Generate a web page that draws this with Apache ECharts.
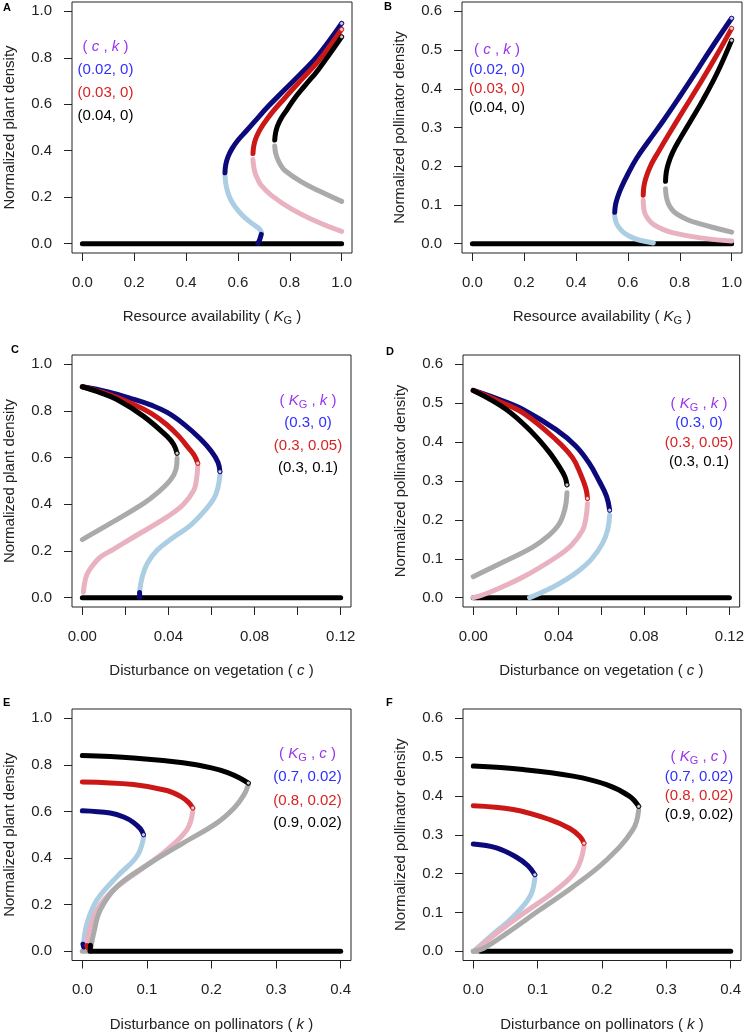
<!DOCTYPE html>
<html><head><meta charset="utf-8">
<script src="https://cdn.jsdelivr.net/npm/echarts@6/dist/echarts.min.js"></script>
<style>html,body{margin:0;padding:0;background:#fff}#c{width:747px;height:1033px}</style>
</head><body><div id="c"></div>
<script>
// ---------- tick values ----------
const ticksUnit = [0, 0.2, 0.4, 0.6, 0.8, 1.0];
const ticksPoll = [0, 0.1, 0.2, 0.3, 0.4, 0.5, 0.6];
const ticksCx = [0, 0.02, 0.04, 0.06, 0.08, 0.10, 0.12];
const labelsCx = [0, 0.04, 0.08, 0.12];
const ticksKx = [0, 0.1, 0.2, 0.3, 0.4];

// ---------- Panel A : plant density vs K_G ----------
const A_navy_st = [[0.550,0.305],[0.553,0.340],[0.562,0.375],[0.578,0.410],[0.600,0.445],[0.632,0.485],[0.664,0.525],[0.716,0.590],[0.780,0.662],[0.845,0.735],[0.910,0.812],[1.000,0.948]];
const A_navy_un = [[0.550,0.295],[0.553,0.260],[0.560,0.225],[0.572,0.190],[0.590,0.158],[0.615,0.125],[0.645,0.095],[0.672,0.073],[0.686,0.060],[0.691,0.048]];
const A_navy_bit = [[0.690,0.040],[0.684,0.018],[0.677,0.002]];
const A_red_st = [[0.658,0.388],[0.661,0.420],[0.668,0.450],[0.680,0.480],[0.696,0.510],[0.729,0.561],[0.780,0.626],[0.845,0.706],[0.910,0.785],[1.000,0.922]];
const A_red_un = [[0.658,0.362],[0.661,0.330],[0.667,0.302],[0.677,0.276],[0.690,0.251],[0.729,0.208],[0.806,0.150],[0.910,0.092],[1.000,0.053]];
const A_blk_st = [[0.742,0.446],[0.745,0.475],[0.752,0.505],[0.767,0.540],[0.790,0.578],[0.819,0.626],[0.860,0.682],[0.910,0.749],[1.000,0.890]];
const A_blk_un = [[0.742,0.420],[0.745,0.392],[0.752,0.367],[0.764,0.340],[0.780,0.316],[0.845,0.266],[0.922,0.222],[1.000,0.182]];
const A_zero = [[0,0],[1,0]];

// ---------- Panel B : pollinator density vs K_G ----------
const B_navy_st = [[0.549,0.081],[0.552,0.100],[0.560,0.120],[0.575,0.146],[0.600,0.180],[0.633,0.220],[0.680,0.265],[0.737,0.318],[0.800,0.380],[0.866,0.447],[0.930,0.513],[1.000,0.582]];
const B_navy_un = [[0.549,0.073],[0.553,0.058],[0.562,0.045],[0.577,0.033],[0.594,0.024],[0.620,0.015],[0.646,0.009],[0.698,0.002]];
const B_red_st = [[0.659,0.125],[0.662,0.150],[0.672,0.175],[0.690,0.205],[0.720,0.240],[0.760,0.285],[0.810,0.340],[0.870,0.405],[0.935,0.478],[1.000,0.556]];
const B_red_un = [[0.659,0.112],[0.661,0.092],[0.666,0.077],[0.680,0.062],[0.698,0.050],[0.735,0.037],[0.775,0.028],[0.879,0.015],[1.000,0.007]];
const B_blk_st = [[0.745,0.161],[0.748,0.185],[0.756,0.207],[0.772,0.235],[0.800,0.270],[0.840,0.315],[0.890,0.372],[0.945,0.442],[1.000,0.525]];
const B_blk_un = [[0.745,0.142],[0.748,0.122],[0.756,0.103],[0.770,0.088],[0.788,0.077],[0.830,0.062],[0.879,0.051],[0.940,0.040],[1.000,0.030]];
const B_zero = [[0,0],[1,0]];

// ---------- Panel C : plant density vs c ----------
const C_navy_st = [[0,0.904],[0.012,0.882],[0.024,0.850],[0.032,0.825],[0.0394,0.794],[0.047,0.745],[0.0549,0.680],[0.0600,0.626],[0.0630,0.580],[0.0639,0.540]];
const C_navy_un = [[0.0639,0.525],[0.0629,0.468],[0.0611,0.425],[0.0564,0.368],[0.0502,0.310],[0.0425,0.260],[0.0347,0.203],[0.0301,0.145],[0.0278,0.088],[0.0266,0.027]];
const C_navy_bit = [[0.0266,0.022],[0.0266,0.002]];
const C_red_st = [[0,0.904],[0.012,0.872],[0.024,0.828],[0.032,0.790],[0.0394,0.740],[0.045,0.690],[0.0490,0.645],[0.0520,0.610],[0.0536,0.576]];
const C_red_un = [[0.0536,0.562],[0.0530,0.505],[0.0518,0.461],[0.0470,0.400],[0.0394,0.346],[0.0239,0.260],[0.0140,0.205],[0.0084,0.174],[0.0045,0.135],[0.0022,0.100],[0.0010,0.060],[0.0005,0.023]];
const C_blk_st = [[0,0.904],[0.008,0.880],[0.0161,0.849],[0.0285,0.777],[0.0394,0.691],[0.0425,0.655],[0.0440,0.619]];
const C_blk_un = [[0.0440,0.598],[0.0435,0.550],[0.0409,0.504],[0.0350,0.450],[0.0285,0.404],[0.0130,0.318],[0,0.249]];
const C_zero = [[0,0],[0.12,0]];

// ---------- Panel D : pollinator density vs c ----------
const D_navy_st = [[0,0.533],[0.012,0.510],[0.0233,0.484],[0.0388,0.432],[0.0480,0.390],[0.0543,0.346],[0.0590,0.300],[0.0625,0.260],[0.0639,0.225]];
const D_navy_un = [[0.0639,0.212],[0.0630,0.175],[0.0605,0.139],[0.0555,0.100],[0.0496,0.070],[0.0430,0.045],[0.0372,0.027],[0.0264,0.0]];
const D_red_st = [[0,0.533],[0.012,0.505],[0.0233,0.475],[0.0388,0.406],[0.0465,0.360],[0.0505,0.315],[0.0528,0.280],[0.0535,0.255]];
const D_red_un = [[0.0535,0.242],[0.0528,0.205],[0.0512,0.173],[0.0460,0.135],[0.0388,0.104],[0.0233,0.053],[0.0078,0.014],[0,0.0]];
const D_blk_st = [[0,0.533],[0.0155,0.484],[0.0279,0.423],[0.0355,0.375],[0.0405,0.335],[0.0430,0.310],[0.0439,0.290]];
const D_blk_un = [[0.0439,0.270],[0.0430,0.230],[0.0403,0.190],[0.0350,0.158],[0.0279,0.130],[0.0124,0.087],[0,0.054]];
const D_zero = [[0,0],[0.12,0]];

// ---------- Panel E : plant density vs k ----------
const E_navy_st = [[0,0.603],[0.0432,0.593],[0.0650,0.575],[0.0792,0.553],[0.0900,0.525],[0.0947,0.500]];
const E_navy_un = [[0.0947,0.486],[0.0844,0.407],[0.0536,0.320],[0.0227,0.220],[0.0072,0.119],[0.002,0.034]];
const E_navy_bit = [[0.001,0.030],[0.002,0.018]];
const E_red_st = [[0,0.727],[0.0792,0.716],[0.131,0.690],[0.152,0.665],[0.164,0.640],[0.171,0.615]];
const E_red_un = [[0.171,0.600],[0.162,0.522],[0.131,0.435],[0.0896,0.349],[0.0484,0.263],[0.0227,0.177],[0.0098,0.076],[0.0072,0.026]];
const E_red_bit = [[0.007,0.024],[0.009,0.013]];
const E_blk_st = [[0,0.840],[0.0792,0.830],[0.156,0.809],[0.200,0.787],[0.225,0.767],[0.245,0.742],[0.257,0.722]];
const E_blk_un = [[0.257,0.715],[0.250,0.670],[0.235,0.615],[0.208,0.550],[0.156,0.464],[0.105,0.378],[0.0536,0.277],[0.0278,0.177],[0.0175,0.076],[0.0134,0.019]];
const E_blk_bit = [[0.0125,0.026],[0.0125,0.002]];
const E_zero_un = [[0,0],[0.012,0]];
const E_zero = [[0.012,0],[0.4,0]];

// ---------- Panel F : pollinator density vs k ----------
const F_navy_st = [[0,0.276],[0.036,0.266],[0.0672,0.242],[0.0850,0.220],[0.0956,0.197]];
const F_navy_un = [[0.0956,0.188],[0.0879,0.140],[0.062,0.089],[0.0258,0.037],[0.0026,0.003]];
const F_red_st = [[0,0.375],[0.062,0.365],[0.119,0.339],[0.150,0.316],[0.166,0.295],[0.172,0.278]];
const F_red_un = [[0.172,0.270],[0.160,0.209],[0.129,0.158],[0.0775,0.097],[0.036,0.046],[0.005,0.003]];
const F_blk_st = [[0,0.477],[0.0775,0.468],[0.155,0.451],[0.207,0.429],[0.243,0.399],[0.257,0.373]];
const F_blk_un = [[0.257,0.364],[0.248,0.313],[0.207,0.235],[0.155,0.166],[0.103,0.106],[0.0517,0.046],[0.0155,0.007],[0,0]];
const F_zero_un = [[0,0],[0.0114,0]];
const F_zero = [[0.0114,0],[0.4,0]];

// ---------- legend texts ----------
const legA = ['(0.02, 0)', '(0.03, 0)', '(0.04, 0)'];
const legC = ['(0.3, 0)', '(0.3, 0.05)', '(0.3, 0.1)'];
const legE = ['(0.7, 0.02)', '(0.8, 0.02)', '(0.9, 0.02)'];

// ---------- styles ----------
const FONT = '"Liberation Sans", Arial, Helvetica, sans-serif';
const NAVY = '#0c0a7a', RED = '#cc1717', BLK = '#000000';
const LBLUE = '#abcee3', PINK = '#e9b2c0', GRAY = '#aaaaaa';
const PURPLE = '#9b33ee', LBLUE_T = '#2f2fff', LRED_T = '#d92222';
const AXC = '#222';

const richName = {
  t: {fontSize: 15, fontFamily: FONT, color: AXC, lineHeight: 18},
  i: {fontSize: 15, fontFamily: FONT, color: AXC, fontStyle: 'italic', lineHeight: 18},
  s: {fontSize: 11, fontFamily: FONT, color: AXC, lineHeight: 11, verticalAlign: 'bottom'}
};
const nameKG = '{t|Resource availability ( }{i|K}{s|G}{t| )}';
const nameC = '{t|Disturbance on vegetation ( }{i|c}{t| )}';
const nameK = '{t|Disturbance on pollinators ( }{i|k}{t| )}';

const panels = [
  {grid:{left:72,top:2,width:280,height:251}, xr:[0,1], yr:[0,1], xt:ticksUnit, xl:ticksUnit, xd:1, yt:ticksUnit, yd:1, xn:nameKG, yn:'Normalized plant density',
   st:[[A_navy_st,NAVY],[A_red_st,RED],[A_blk_st,BLK]], un:[[A_navy_un,LBLUE],[A_red_un,PINK],[A_blk_un,GRAY]], zero:[[A_zero,BLK]], bits:[[A_navy_bit,NAVY]]},
  {grid:{left:462,top:2,width:280,height:251}, xr:[0,1], yr:[0,0.6], xt:ticksUnit, xl:ticksUnit, xd:1, yt:ticksPoll, yd:1, xn:nameKG, yn:'Normalized pollinator density',
   st:[[B_navy_st,NAVY],[B_red_st,RED],[B_blk_st,BLK]], un:[[B_navy_un,LBLUE],[B_red_un,PINK],[B_blk_un,GRAY]], zero:[[B_zero,BLK]], bits:[]},
  {grid:{left:72,top:355,width:279,height:252}, xr:[0,0.12], yr:[0,1], xt:ticksCx, xl:labelsCx, xd:2, yt:ticksUnit, yd:1, xn:nameC, yn:'Normalized plant density',
   st:[[C_navy_st,NAVY],[C_red_st,RED],[C_blk_st,BLK]], un:[[C_navy_un,LBLUE],[C_red_un,PINK],[C_blk_un,GRAY]], zero:[[C_zero,BLK]], bits:[[C_navy_bit,NAVY]]},
  {grid:{left:463,top:355,width:278,height:252}, xr:[0,0.12], yr:[0,0.6], xt:ticksCx, xl:labelsCx, xd:2, yt:ticksPoll, yd:1, xn:nameC, yn:'Normalized pollinator density',
   st:[[D_navy_st,NAVY],[D_red_st,RED],[D_blk_st,BLK]], un:[[D_navy_un,LBLUE],[D_red_un,PINK],[D_blk_un,GRAY]], zero:[[D_zero,BLK]], bits:[]},
  {grid:{left:72,top:709,width:279,height:252}, xr:[0,0.4], yr:[0,1], xt:ticksKx, xl:ticksKx, xd:1, yt:ticksUnit, yd:1, xn:nameK, yn:'Normalized plant density',
   st:[[E_navy_st,NAVY],[E_red_st,RED],[E_blk_st,BLK]], un:[[E_navy_un,LBLUE],[E_red_un,PINK],[E_blk_un,GRAY]], zero:[[E_zero_un,GRAY],[E_zero,BLK]], bits:[[E_navy_bit,NAVY],[E_red_bit,RED],[E_blk_bit,BLK]]},
  {grid:{left:463,top:709,width:278,height:252}, xr:[0,0.4], yr:[0,0.6], xt:ticksKx, xl:ticksKx, xd:1, yt:ticksPoll, yd:1, xn:nameK, yn:'Normalized pollinator density',
   st:[[F_navy_st,NAVY],[F_red_st,RED],[F_blk_st,BLK]], un:[[F_navy_un,LBLUE],[F_red_un,PINK],[F_blk_un,GRAY]], zero:[[F_zero_un,GRAY],[F_zero,BLK]], bits:[]}
];

const grids = [], xAxes = [], yAxes = [], series = [];
panels.forEach((p, i) => {
  grids.push(Object.assign({show: true, borderColor: AXC, borderWidth: 1, backgroundColor: 'transparent', containLabel: false}, p.grid));
  const xs = p.xr[1] - p.xr[0], ys = p.yr[1] - p.yr[0];
  xAxes.push({
    type: 'value', gridIndex: i, min: p.xr[0] - 0.04 * xs, max: p.xr[1] + 0.04 * xs,
    axisLine: {show: false, onZero: false}, splitLine: {show: false},
    axisTick: {show: true, inside: false, length: 8, customValues: p.xt, lineStyle: {color: AXC, width: 1}},
    axisLabel: {show: true, margin: 22, customValues: p.xl, fontSize: 15, fontFamily: FONT, color: AXC,
      formatter: (v) => Number(v).toFixed(p.xd)},
    name: p.xn, nameLocation: 'middle', nameGap: 55, nameTextStyle: {rich: richName}
  });
  yAxes.push({
    type: 'value', gridIndex: i, min: p.yr[0] - 0.04 * ys, max: p.yr[1] + 0.04 * ys,
    axisLine: {show: false, onZero: false}, splitLine: {show: false},
    axisTick: {show: true, inside: false, length: 8, customValues: p.yt, lineStyle: {color: AXC, width: 1}},
    axisLabel: {show: true, margin: 20, customValues: p.yt, fontSize: 15, fontFamily: FONT, color: AXC,
      formatter: (v) => Number(v).toFixed(p.yd)},
    name: p.yn, nameLocation: 'middle', nameRotate: 90, nameGap: 55,
    nameTextStyle: {fontSize: 15, fontFamily: FONT, color: AXC}
  });
  const line = (data, color, z) => ({
    type: 'line', xAxisIndex: i, yAxisIndex: i, data: data, showSymbol: false, symbol: 'none',
    smooth: 0.4, silent: true, z: z, animation: false,
    lineStyle: {color: color, width: 5, cap: 'round', join: 'round'}
  });
  p.zero.forEach(d => series.push(line(d[0], d[1], 1)));
  p.un.forEach(d => series.push(line(d[0], d[1], 2)));
  p.st.forEach(d => series.push(line(d[0], d[1], 3)));
  p.bits.forEach(d => series.push(line(d[0], d[1], 4)));
  p.st.forEach(d => {
    const arr = d[0];
    const last = arr[arr.length - 1];
    series.push({type: 'scatter', xAxisIndex: i, yAxisIndex: i, data: [last], symbol: 'circle', symbolSize: 4,
      silent: true, z: 5, animation: false,
      itemStyle: {color: '#ffffff', borderColor: d[1], borderWidth: 1}});
  });
});

// ---------- legends & panel letters (graphic) ----------
const richHead = {
  p: {fontSize: 15, fontFamily: FONT, fill: PURPLE, color: PURPLE, lineHeight: 18},
  pi: {fontSize: 15, fontFamily: FONT, fill: PURPLE, color: PURPLE, fontStyle: 'italic', lineHeight: 18},
  ps: {fontSize: 11, fontFamily: FONT, fill: PURPLE, color: PURPLE, lineHeight: 11, verticalAlign: 'bottom'}
};
const headCK = '{p|( }{pi|c}{p| , }{pi|k}{p| )}';
const headKk = '{p|( }{pi|K}{ps|G}{p| , }{pi|k}{p| )}';
const headKc = '{p|( }{pi|K}{ps|G}{p| , }{pi|c}{p| )}';

const legendDefs = [
  {head: headCK, items: legA, cx: 105.5, ys: [47, 70, 93, 116]},
  {head: headCK, items: legA, cx: 497, ys: [50, 70, 89, 108]},
  {head: headKk, items: legC, cx: 308, ys: [401, 423, 446, 468]},
  {head: headKk, items: legC, cx: 699, ys: [404, 423, 443, 462]},
  {head: headKc, items: legE, cx: 307.5, ys: [754, 777, 801, 823]},
  {head: headKc, items: legE, cx: 699, ys: [757, 777, 796, 815]}
];
const legColors = [LBLUE_T, LRED_T, BLK];
const graphic = [];
legendDefs.forEach(L => {
  graphic.push({type: 'text', silent: true, z: 10, style: {x: L.cx, y: L.ys[0], text: L.head, rich: richHead, fill: PURPLE,
    align: 'center', verticalAlign: 'middle', textAlign: 'center', textVerticalAlign: 'middle'}});
  L.items.forEach((t, j) => {
    graphic.push({type: 'text', silent: true, z: 10, style: {x: L.cx, y: L.ys[j + 1], text: t,
      fill: legColors[j], fontSize: 15, fontFamily: FONT,
      align: 'center', verticalAlign: 'middle', textAlign: 'center', textVerticalAlign: 'middle'}});
  });
});
const letters = [['A', 3, 8], ['B', 384, 7], ['C', 11, 350], ['D', 386, 352], ['E', 3, 703], ['F', 386, 703]];
letters.forEach(l => {
  graphic.push({type: 'text', silent: true, z: 10, style: {x: l[1], y: l[2], text: l[0], fill: '#000',
    fontSize: 11, fontWeight: 'bold', fontFamily: FONT, align: 'left', verticalAlign: 'middle',
    textAlign: 'left', textVerticalAlign: 'middle'}});
});

const chart = echarts.init(document.getElementById('c'), null, {renderer: 'canvas'});
chart.setOption({
  animation: false, backgroundColor: '#ffffff',
  grid: grids, xAxis: xAxes, yAxis: yAxes, series: series, graphic: graphic
});
</script>
</body></html>
